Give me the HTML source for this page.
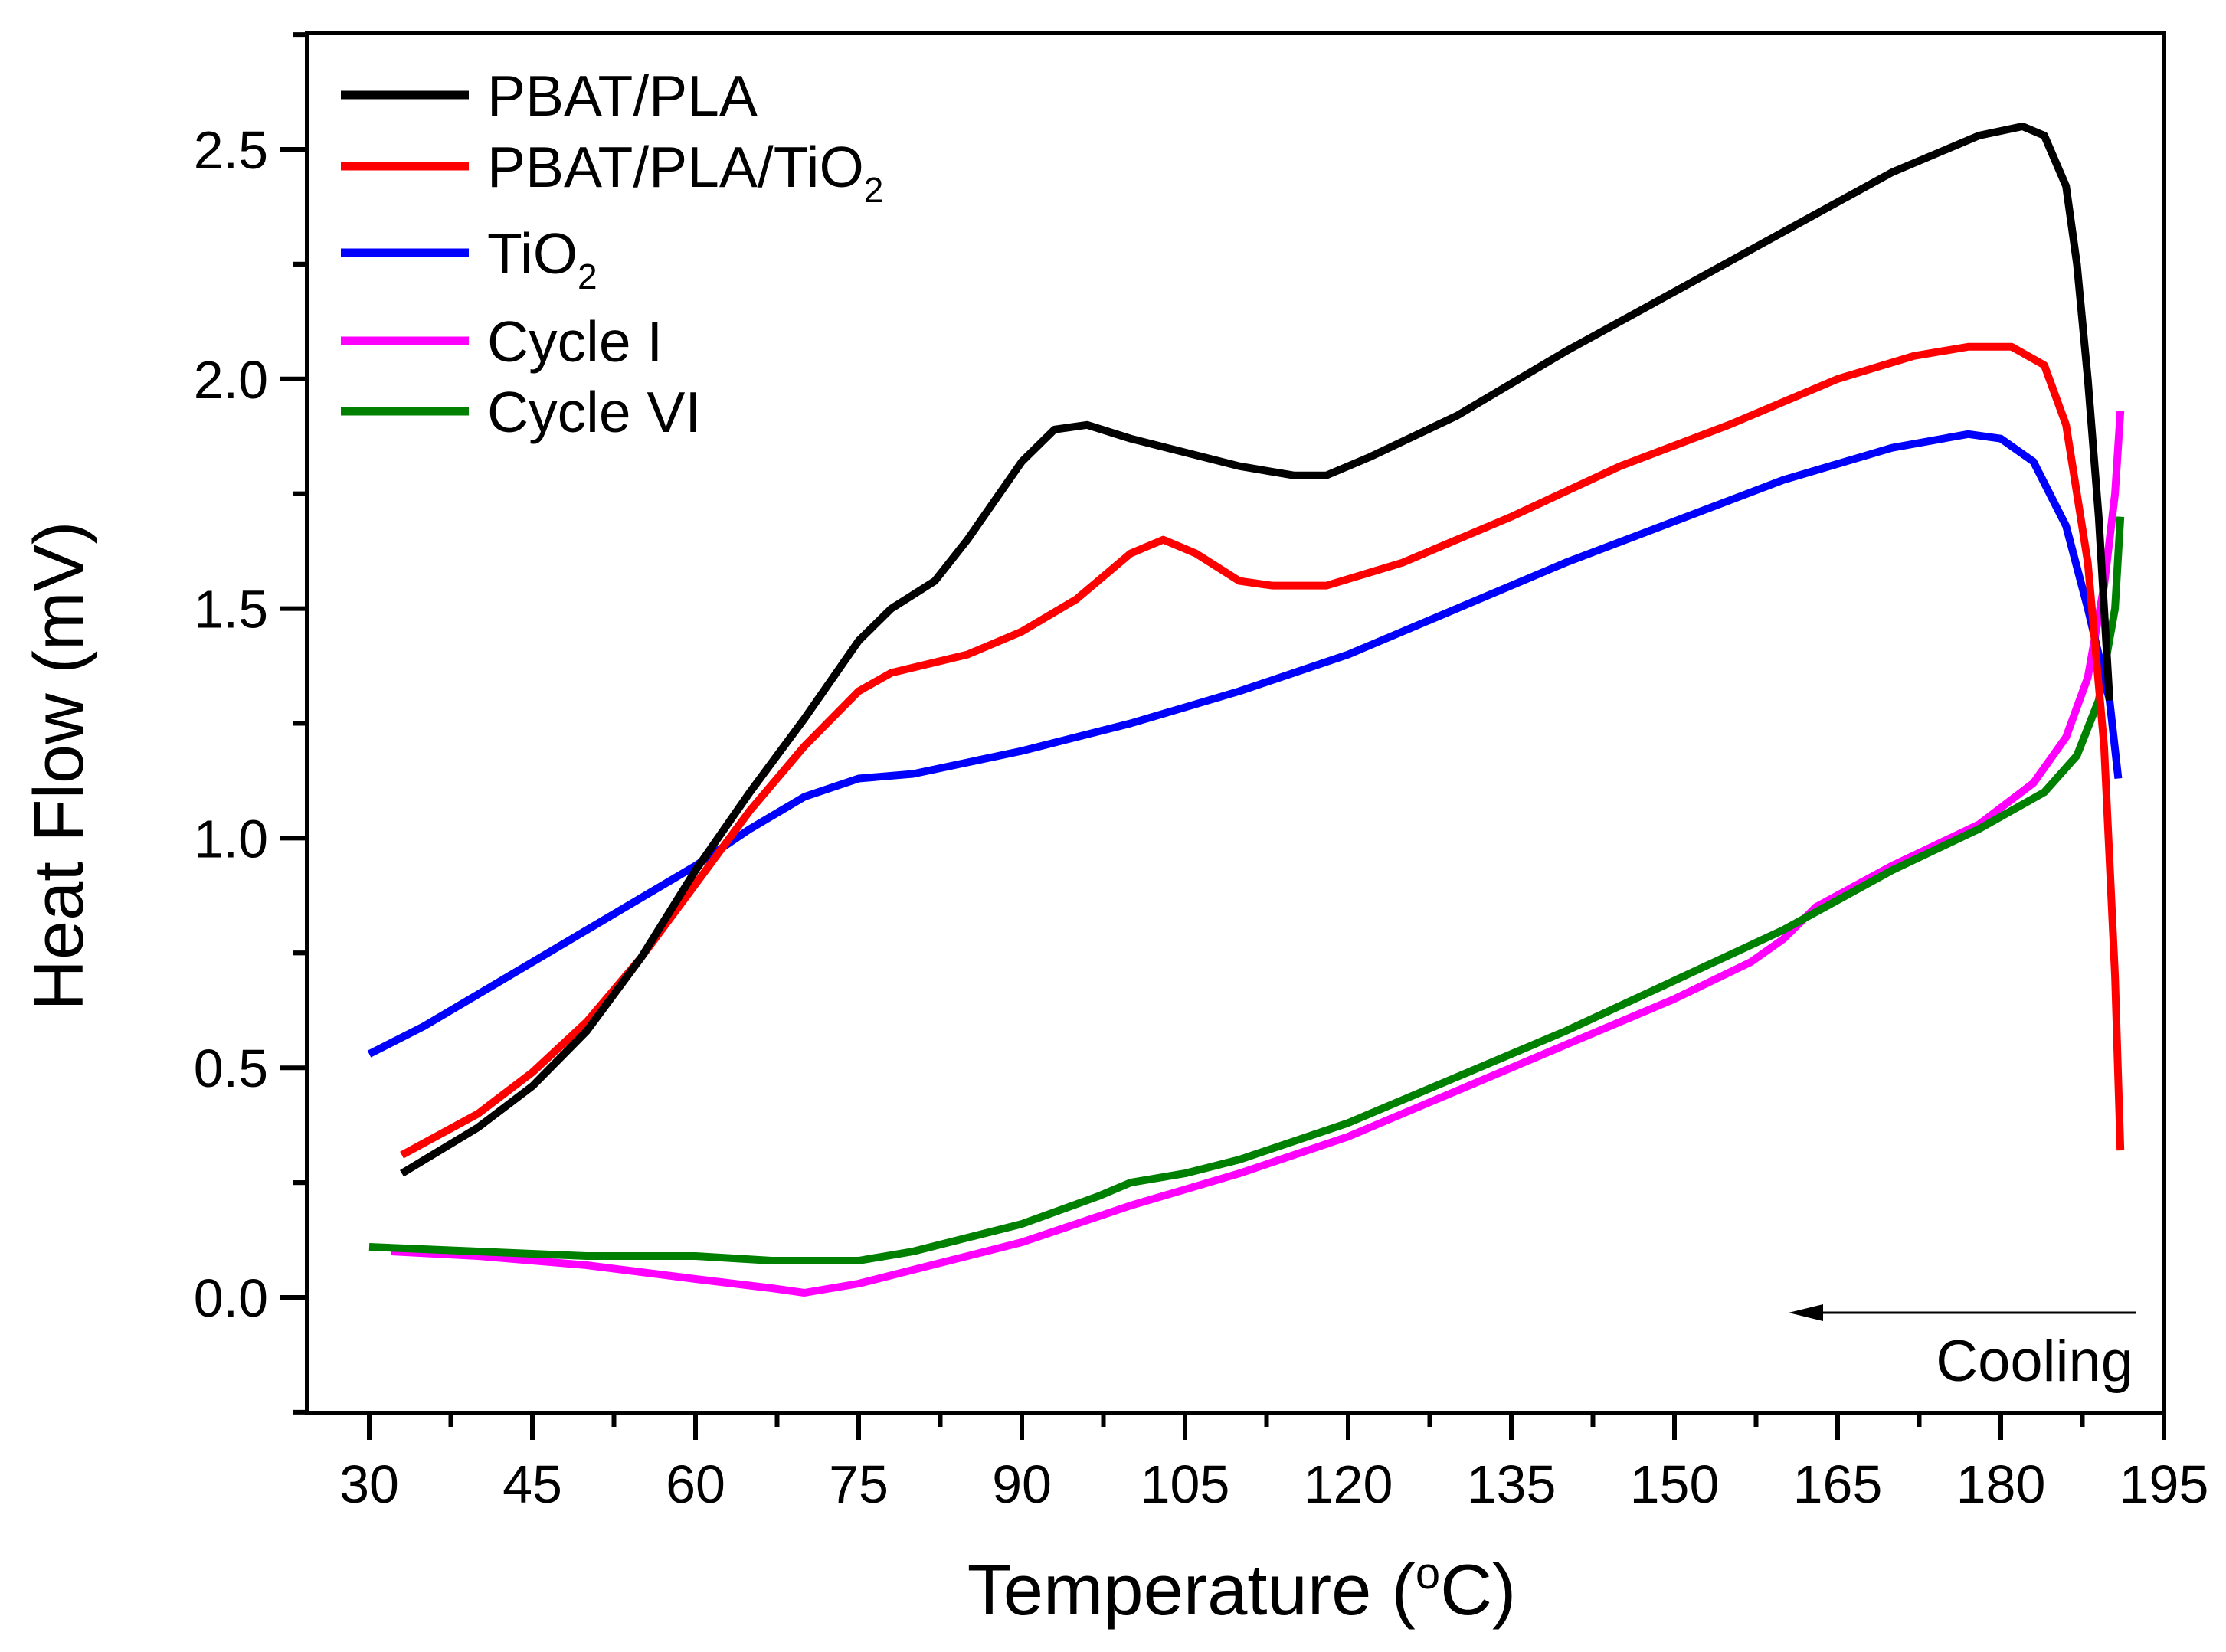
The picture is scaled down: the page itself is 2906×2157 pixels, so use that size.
<!DOCTYPE html>
<html><head><meta charset="utf-8"><style>html,body{margin:0;padding:0;background:#fff}svg{display:block}text{font-family:"Liberation Sans",sans-serif}</style></head>
<body>
<svg id="chart" width="2906" height="2157" viewBox="0 0 2906 2157" xmlns="http://www.w3.org/2000/svg">
<rect x="401" y="43" width="2424" height="1802" fill="none" stroke="#000" stroke-width="6"/>
<g id="axes"></g>
<g id="series"></g>
<text transform="translate(108,1000) rotate(-90)" text-anchor="middle" font-size="92">Heat Flow (mV)</text>
<text x="1621" y="2108" text-anchor="middle" font-size="94">Temperature (<tspan font-size="58" dy="-34">o</tspan><tspan dy="34">C)</tspan></text>
<g font-size="75">
<line x1="445" y1="124" x2="612" y2="124" stroke="#000" stroke-width="11"/>
<text x="636" y="151">PBAT/PLA</text>
<line x1="445" y1="217" x2="612" y2="217" stroke="#ff0000" stroke-width="11"/>
<text x="636" y="244">PBAT/PLA/TiO<tspan font-size="46" dy="20">2</tspan></text>
<line x1="445" y1="330" x2="612" y2="330" stroke="#0000ff" stroke-width="11"/>
<text x="636" y="357">TiO<tspan font-size="46" dy="20">2</tspan></text>
<line x1="445" y1="445" x2="612" y2="445" stroke="#ff00ff" stroke-width="11"/>
<text x="636" y="472">Cycle I</text>
<line x1="445" y1="537" x2="612" y2="537" stroke="#008000" stroke-width="11"/>
<text x="636" y="564">Cycle VI</text>
</g>
<line x1="2789" y1="1714" x2="2370" y2="1714" stroke="#000" stroke-width="3"/>
<polygon points="2335,1714 2380,1703 2380,1725" fill="#000"/>
<text x="2785" y="1803" text-anchor="end" font-size="76">Cooling</text>
</svg>
<script>
const xTicks=[30,45,60,75,90,105,120,135,150,165,180,195];
const yTicks=[0.0,0.5,1.0,1.5,2.0,2.5];
const yTickLabels=["0.0","0.5","1.0","1.5","2.0","2.5"];
const pbatT=[33,40,45,50,55,60,65,70,75,78,82,85,90,93,96,100,105,110,115,118,122,130,140,150,160,170,178,182,184,186,187,188,189,190];
const pbatV=[0.27,0.37,0.46,0.58,0.74,0.93,1.10,1.26,1.43,1.50,1.56,1.65,1.82,1.89,1.90,1.87,1.84,1.81,1.79,1.79,1.83,1.92,2.06,2.19,2.32,2.45,2.53,2.55,2.53,2.42,2.25,2.00,1.70,1.30];
const tioCompT=[33,40,45,50,55,60,65,70,75,78,85,90,95,100,103,106,110,113,118,125,135,145,155,165,172,177,181,184,186,188,189.5,190.5,191];
const tioCompV=[0.31,0.40,0.49,0.60,0.74,0.90,1.06,1.20,1.32,1.36,1.40,1.45,1.52,1.62,1.65,1.62,1.56,1.55,1.55,1.60,1.70,1.81,1.90,2.00,2.05,2.07,2.07,2.03,1.90,1.60,1.20,0.70,0.32];
const tioT=[30,35,40,45,50,55,60,65,70,75,80,90,100,110,120,130,140,150,160,170,177,180,183,186,188,190,190.8];
const tioV=[0.53,0.59,0.66,0.73,0.80,0.87,0.94,1.02,1.09,1.13,1.14,1.19,1.25,1.32,1.40,1.50,1.60,1.69,1.78,1.85,1.88,1.87,1.82,1.68,1.50,1.30,1.13];
const cyc1T=[32,40,50,60,67,70,75,80,90,100,110,120,130,140,150,157,160,163,170,178,183,186,188,189.5,190.5,191];
const cyc1V=[0.10,0.09,0.07,0.04,0.02,0.01,0.03,0.06,0.12,0.20,0.27,0.35,0.45,0.55,0.65,0.73,0.78,0.85,0.94,1.03,1.12,1.22,1.35,1.55,1.75,1.93];
const cyc6T=[30,40,50,60,67,75,80,90,97,100,105,110,120,130,140,150,160,170,178,184,187,189,190.5,191];
const cyc6V=[0.11,0.10,0.09,0.09,0.08,0.08,0.10,0.16,0.22,0.25,0.27,0.30,0.38,0.48,0.58,0.69,0.80,0.93,1.02,1.10,1.18,1.30,1.50,1.70];
const NS="http://www.w3.org/2000/svg";
function sx(t){return 482+(t-30)*(2825-482)/165;}
function sy(v){return 1694-v*(1694-195)/2.5;}
const axes=document.getElementById('axes');
function mk(tag,attrs,parent){const e=document.createElementNS(NS,tag);for(const k in attrs)e.setAttribute(k,attrs[k]);parent.appendChild(e);return e;}
xTicks.forEach((t,i)=>{
  const l=mk('line',{x1:sx(t),x2:sx(t),y1:1845,y2:1880,stroke:'#000','stroke-width':6},axes);
  
  
  if(i<xTicks.length-1){const m=mk('line',{x1:sx(t+7.5),x2:sx(t+7.5),y1:1845,y2:1863,stroke:'#000','stroke-width':6},axes);
  
  }
  const tx=mk('text',{x:sx(t),y:1962,'text-anchor':'middle','font-size':70},axes);
  tx.textContent=String(t);
  
  
});
yTicks.forEach((v,i)=>{
  const l=mk('line',{x1:366,x2:401,y1:sy(v),y2:sy(v),stroke:'#000','stroke-width':6},axes);
  
  
  [v-0.25,v+0.25].forEach(m=>{if(m>-0.26&&m<2.76){const mm=mk('line',{x1:383,x2:401,y1:sy(m),y2:sy(m),stroke:'#000','stroke-width':6},axes);
  
  }});
  const tx=mk('text',{x:350,y:sy(v)+25,'text-anchor':'end','font-size':70},axes);
  tx.textContent=yTickLabels[i];
  
  
});
const sg=document.getElementById('series');
function draw(T,V,color,name){
  const d=T.map((t,i)=>(i?'L':'M')+sx(t).toFixed(1)+','+sy(V[i]).toFixed(1)).join(' ');
  const p=mk('path',{d:d,fill:'none',stroke:color,'stroke-width':10,'stroke-linejoin':'round'},sg);
  
  
}
draw(cyc1T,cyc1V,'#ff00ff','series-cycle-i');
draw(cyc6T,cyc6V,'#008000','series-cycle-vi');
draw(tioT,tioV,'#0000ff','series-tio2');
draw(tioCompT,tioCompV,'#ff0000','series-pbat-pla-tio2');
draw(pbatT,pbatV,'#000000','series-pbat-pla');
</script>
</body></html>
